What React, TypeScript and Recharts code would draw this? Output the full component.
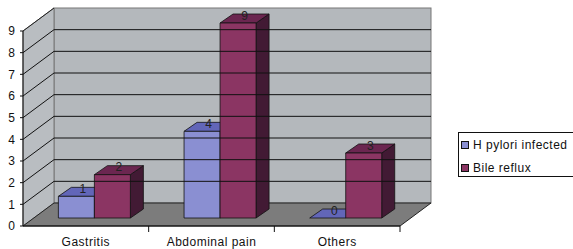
import React from "react";
import { BarChart, Bar, XAxis, YAxis, ReferenceArea, ReferenceLine, LabelList } from "recharts";

const categories = ["Gastritis", "Abdominal pain", "Others"];
const hPyloriInfected = [1, 4, 0];
const bileReflux = [2, 9, 3];
const yTicks = [0, 1, 2, 3, 4, 5, 6, 7, 8, 9];

const data = categories.map((name, i) => ({
  name,
  hPylori: hPyloriInfected[i],
  bile: bileReflux[i],
}));

const FONT = "'Liberation Sans', Arial, sans-serif";
const PLOT_LEFT = 23;
const PLOT_RIGHT = 400;
const BAND = (PLOT_RIGHT - PLOT_LEFT) / categories.length;

// depth of the whole box (front plane -> back wall)
const DX = 31;
const DY = -23;
// bars sit a bit behind the front plane, and have their own depth
const BAR_DX = 9;
const BAR_DY = -8;
const BX = 13;
const BY = -9;

const COLORS = {
  blue: { front: "#8a8fd2", top: "#6266b8", side: "#3d3f80" },
  red: { front: "#8b3563", top: "#6b2650", side: "#421a34" },
};

const make3DBar = (c: { front: string; top: string; side: string }) => (props: any) => {
  const { x, y, width, height } = props;
  const fx = x + BAR_DX;
  const fy = y + BAR_DY;
  const h = Math.max(height, 0);
  return (
    <g stroke="#111" strokeWidth={0.8} strokeLinejoin="round">
      {h > 0 && (
        <polygon
          fill={c.side}
          points={`${fx + width},${fy} ${fx + width + BX},${fy + BY} ${fx + width + BX},${fy + h + BY} ${fx + width},${fy + h}`}
        />
      )}
      <polygon
        fill={c.top}
        points={`${fx},${fy} ${fx + BX},${fy + BY} ${fx + width + BX},${fy + BY} ${fx + width},${fy}`}
      />
      {h > 0 && <rect x={fx} y={fy} width={width} height={h} fill={c.front} />}
    </g>
  );
};

const BarValue = (props: any) => {
  const vb = props.viewBox || {};
  const x = props.x ?? vb.x;
  const y = props.y ?? vb.y;
  const width = props.width ?? vb.width;
  return (
    <text
      x={x + BAR_DX + width / 2 + BX / 2}
      y={y + BAR_DY + BY / 2 + 1}
      textAnchor="middle"
      fontSize={12}
      fontFamily={FONT}
      fill="#222"
    >
      {props.value}
    </text>
  );
};

const Walls = (props: any) => {
  const { x, y, width, height } = props;
  const bottom = y + height;
  const right = x + width;
  return (
    <g>
      {/* back wall */}
      <rect x={x + DX} y={y + DY} width={width} height={height} fill="#b4b8bc" stroke="#777" strokeWidth={1} />
      {/* side wall */}
      <polygon
        points={`${x},${bottom} ${x},${y} ${x + DX},${y + DY} ${x + DX},${bottom + DY}`}
        fill="#b9bdc1"
        stroke="#777"
        strokeWidth={1}
      />
      {/* floor */}
      <polygon
        points={`${x},${bottom} ${right},${bottom} ${right + DX},${bottom + DY} ${x + DX},${bottom + DY}`}
        fill="#7c7c7c"
        stroke="#222"
        strokeWidth={1}
      />
      <line x1={x} y1={y} x2={x + DX} y2={y + DY} stroke="#222" strokeWidth={1} />
    </g>
  );
};

const GridLine3D = (props: any) => {
  const { x1, y1, x2, y2 } = props;
  return (
    <g stroke="#111" strokeWidth={1}>
      <line x1={x1} y1={y1} x2={x1 + DX} y2={y1 + DY} />
      <line x1={x1 + DX} y1={y1 + DY} x2={x2 + DX} y2={y2 + DY} />
    </g>
  );
};

const CategoryTick = (props: any) => {
  const { x, y, payload } = props;
  return (
    <g>
      <line x1={x + BAND / 2} y1={y} x2={x + BAND / 2} y2={y + 6} stroke="#111" />
      <text
        x={x}
        y={y + 20}
        textAnchor="middle"
        fontSize={12}
        fontFamily={FONT}
        letterSpacing={0.5}
        fill="#111"
      >
        {payload.value}
      </text>
    </g>
  );
};

const legendItems = [
  { label: "H pylori infected", color: COLORS.blue.front },
  { label: "Bile reflux", color: COLORS.red.front },
];

const LegendBox = () => (
  <div
    style={{
      position: "absolute",
      left: 458,
      top: 132,
      border: "1px solid #111",
      width: 116,
      height: 45,
      boxSizing: "border-box",
      padding: "3px 0 0 2px",
      fontFamily: FONT,
      fontSize: 12,
      letterSpacing: 0.5,
      color: "#111",
      background: "#fff",
      whiteSpace: "nowrap",
      overflow: "hidden",
    }}
  >
    {legendItems.map((it) => (
      <div key={it.label} style={{ display: "flex", alignItems: "center", height: 18, marginBottom: 5 }}>
        <span
          style={{
            display: "inline-block",
            width: 6,
            height: 6,
            border: "1px solid #111",
            background: it.color,
            marginRight: 4,
          }}
        />
        {it.label}
      </div>
    ))}
  </div>
);

export default function App() {
  return (
    <div style={{ position: "absolute", left: 0, top: 0, width: 573, height: 249, background: "#fff" }}>
      <BarChart
        width={573}
        height={249}
        data={data}
        margin={{ top: 31, right: 173, left: 0, bottom: 0 }}
        barCategoryGap="21%"
        barGap={0}
      >
        <XAxis
          dataKey="name"
          height={23}
          axisLine={{ stroke: "#111" }}
          tickLine={false}
          tickSize={0}
          tickMargin={0}
          tick={<CategoryTick />}
          interval={0}
        />
        <YAxis
          width={23}
          domain={[0, 9]}
          ticks={yTicks}
          interval={0}
          axisLine={{ stroke: "#111" }}
          tickLine={{ stroke: "#111" }}
          tickSize={3}
          tickMargin={5}
          tick={{ fontSize: 12, fontFamily: FONT, fill: "#111" }}
        />
        <ReferenceArea y1={0} y2={9} shape={<Walls />} ifOverflow="visible" fillOpacity={1} />
        {yTicks.slice(1, -1).map((v) => (
          <ReferenceLine key={v} y={v} shape={<GridLine3D />} />
        ))}
        <Bar dataKey="hPylori" name="H pylori infected" fill={COLORS.blue.front} shape={make3DBar(COLORS.blue)} isAnimationActive={false}>
          <LabelList dataKey="hPylori" content={<BarValue />} />
        </Bar>
        <Bar dataKey="bile" name="Bile reflux" fill={COLORS.red.front} shape={make3DBar(COLORS.red)} isAnimationActive={false}>
          <LabelList dataKey="bile" content={<BarValue />} />
        </Bar>
      </BarChart>
      <LegendBox />
    </div>
  );
}
